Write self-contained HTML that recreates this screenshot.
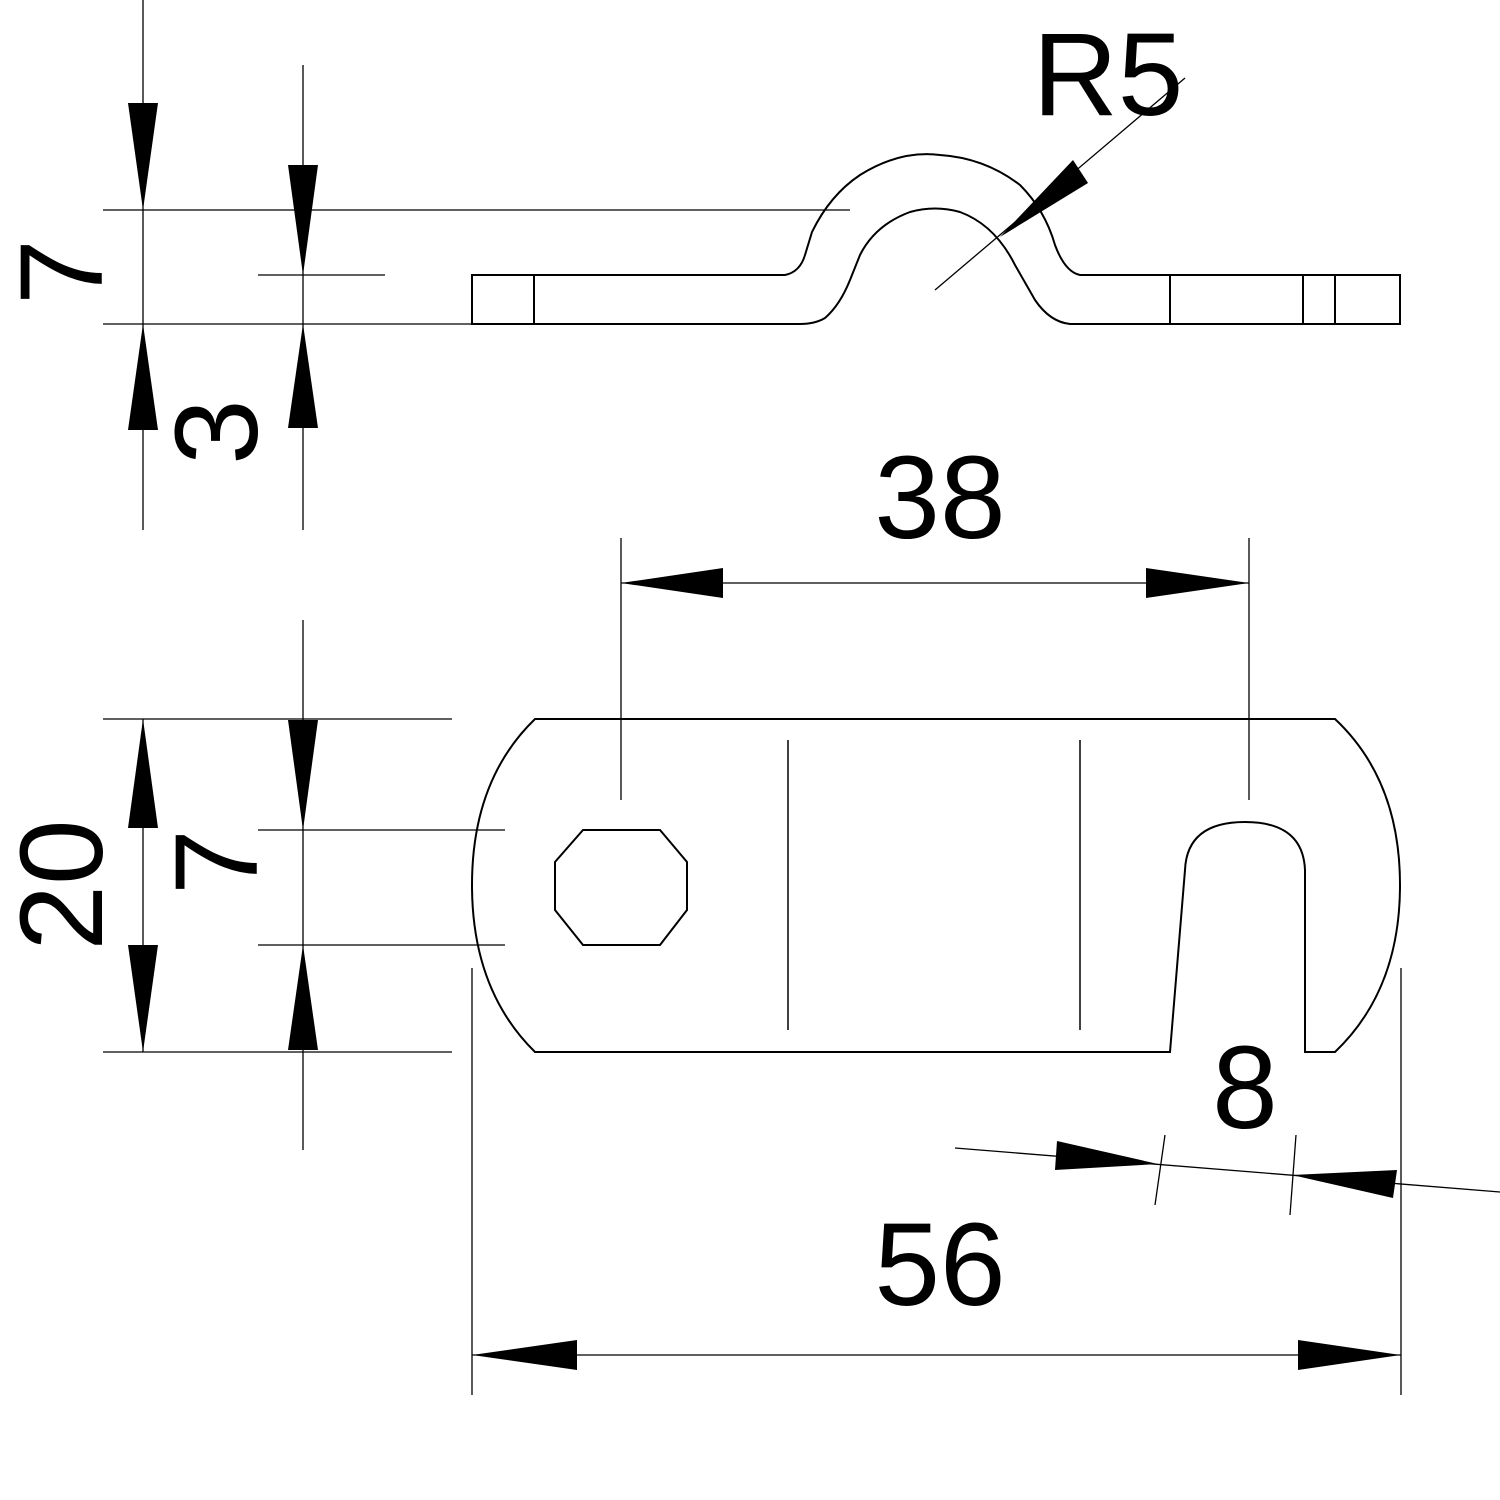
<!DOCTYPE html>
<html><head><style>html,body{margin:0;padding:0;background:#fff}svg{display:block}</style></head>
<body>
<svg width="1500" height="1500" viewBox="0 0 1500 1500" xmlns="http://www.w3.org/2000/svg">
<g stroke="#000" stroke-width="1.3" fill="none">
<!-- top view extension lines -->
<line x1="103" y1="210" x2="850" y2="210"/>
<line x1="258" y1="275" x2="385" y2="275"/>
<line x1="103" y1="324" x2="472" y2="324"/>
<line x1="143" y1="0" x2="143" y2="530"/>
<line x1="303" y1="65" x2="303" y2="530"/>
<!-- profile -->
<path d="M472,275 L785,275 Q800,272 805,255 L812,232 Q830,195 860,175 Q900,150 940,155 Q985,158 1020,185 Q1045,210 1055,245 Q1065,272 1080,275 L1400,275 L1400,324 L1070,324 Q1050,322 1035,300 L1015,265 Q995,225 960,212 Q935,205 910,212 Q875,225 860,255 L850,280 Q840,305 825,318 Q815,324 800,324 L472,324 Z" stroke-width="2"/>
<line x1="534" y1="275" x2="534" y2="324" stroke-width="2"/>
<line x1="1170" y1="275" x2="1170" y2="324" stroke-width="2"/>
<line x1="1303" y1="275" x2="1303" y2="324" stroke-width="2"/>
<line x1="1335" y1="275" x2="1335" y2="324" stroke-width="2"/>
<!-- R5 leader -->
<line x1="935" y1="290" x2="1185" y2="78"/>
<!-- bottom view ext lines -->
<line x1="103" y1="719" x2="452" y2="719"/>
<line x1="103" y1="1052" x2="452" y2="1052"/>
<line x1="258" y1="830" x2="505" y2="830"/>
<line x1="258" y1="945" x2="505" y2="945"/>
<line x1="143" y1="719" x2="143" y2="1052"/>
<line x1="303" y1="620" x2="303" y2="1150"/>
<line x1="621" y1="538" x2="621" y2="800"/>
<line x1="1249" y1="538" x2="1249" y2="800"/>
<line x1="621" y1="583" x2="1249" y2="583"/>
<line x1="472" y1="968" x2="472" y2="1395"/>
<line x1="1401" y1="968" x2="1401" y2="1395"/>
<line x1="472" y1="1355" x2="1401" y2="1355"/>
<line x1="955" y1="1148" x2="1500" y2="1192"/>
<line x1="1165" y1="1135" x2="1155" y2="1205"/>
<line x1="1296" y1="1135" x2="1290" y2="1215"/>
<!-- plate -->
<path d="M535,719 L1335,719 Q1400,780 1400,885 Q1400,990 1335,1052 L1305,1052 L1305,870 Q1303,822 1245,822 Q1187,822 1185,870 L1170,1052 L535,1052 Q472,990 472,885 Q472,780 535,719 Z" stroke-width="2"/>
<path d="M583,830 L660,830 L687,862 L687,910 L660,945 L583,945 L555,910 L555,862 Z" stroke-width="2"/>
<line x1="788" y1="740" x2="788" y2="1030" stroke-width="1.5"/>
<line x1="1080" y1="740" x2="1080" y2="1030" stroke-width="1.5"/>
</g>
<g fill="#000">
<!-- top arrows -->
<polygon points="143,210 128,103 158,103"/>
<polygon points="143,324 128,430 158,430"/>
<polygon points="303,275 288,165 318,165"/>
<polygon points="303,324 288,428 318,428"/>
<polygon points="1000,237 1073,160 1088,183"/>
<!-- bottom arrows -->
<polygon points="143,719 128,828 158,828"/>
<polygon points="143,1052 128,945 158,945"/>
<polygon points="303,830 288,720 318,720"/>
<polygon points="303,945 288,1050 318,1050"/>
<polygon points="621,583 723,568 723,598"/>
<polygon points="1249,583 1146,568 1146,598"/>
<polygon points="472,1355 577,1340 577,1370"/>
<polygon points="1401,1355 1298,1340 1298,1370"/>
<polygon points="1158,1164 1057,1141 1055,1170"/>
<polygon points="1292,1175 1397,1170 1393,1198"/>
</g>
<g font-family="Liberation Sans, sans-serif" font-size="118" fill="#000" text-anchor="middle">
<text x="1108" y="115">R5</text>
<text x="940" y="538">38</text>
<text x="940" y="1305">56</text>
<text x="1245" y="1128">8</text>
<text transform="translate(102,272) rotate(-90)">7</text>
<text transform="translate(257,432) rotate(-90)">3</text>
<text transform="translate(102,885) rotate(-90)">20</text>
<text transform="translate(257,862) rotate(-90)">7</text>
</g>
</svg>
</body></html>
